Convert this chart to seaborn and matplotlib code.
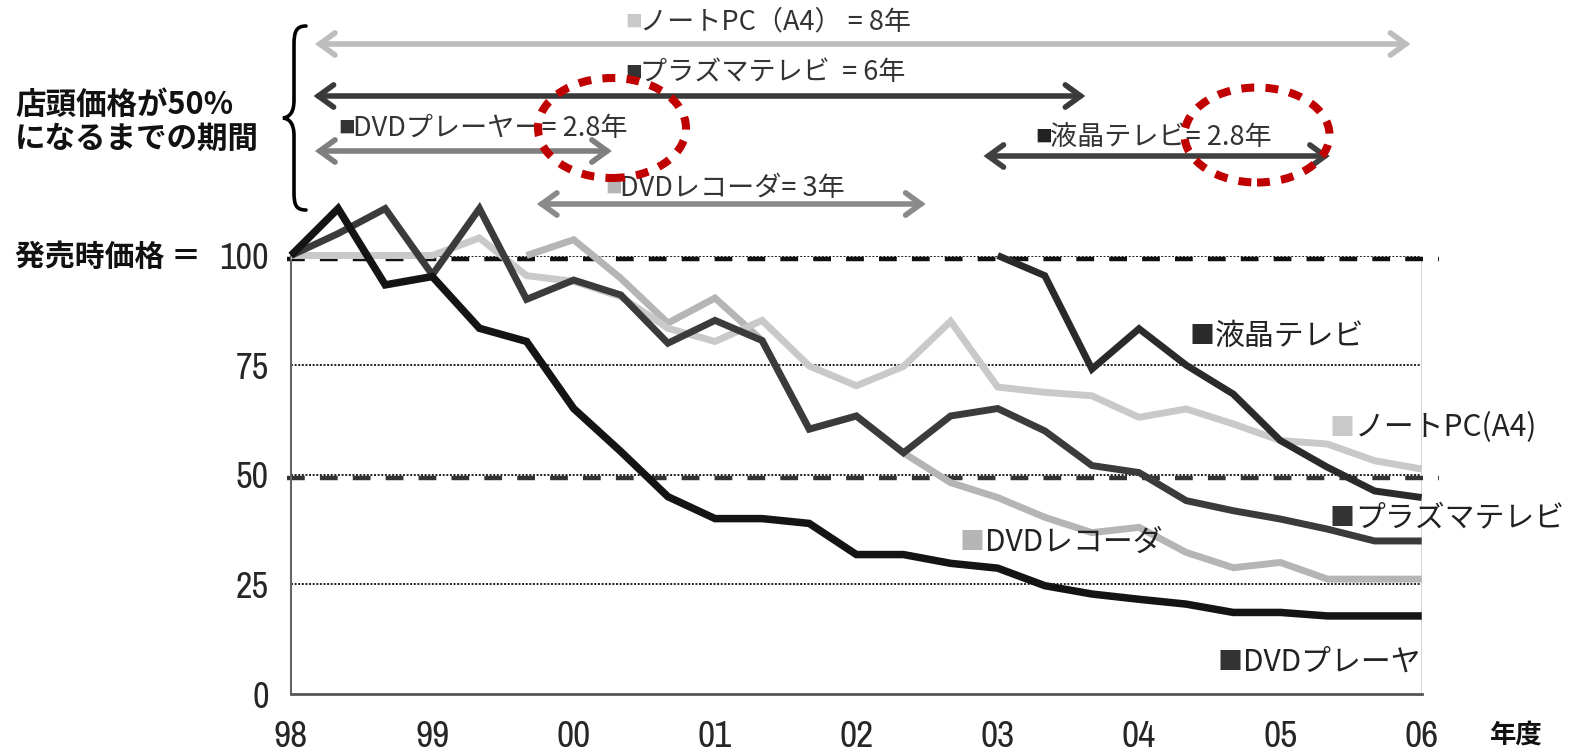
import numpy as np
import pandas as pd
import matplotlib
matplotlib.use("Agg")
import matplotlib.pyplot as plt
import matplotlib.transforms as mtransforms
from matplotlib import font_manager
from matplotlib.font_manager import FontProperties
from matplotlib.patches import FancyArrowPatch, Ellipse, PathPatch, ArrowStyle
from matplotlib.path import Path
import seaborn as sns

nan = np.nan

# one sample every four months, FY1998 .. FY2006 (x in years since FY98)
periods = np.arange(25) / 3.0
year_labels = ["98", "99", "00", "01", "02", "03", "04", "05", "06"]

# store price index (launch price = 100)
dvd_player = [100, 110.7, 93.3, 95.2, 83.4, 80.4, 65.1, 55.3, 45.0, 40.0, 40.0, 38.9, 31.8,
              31.8, 29.8, 28.7, 24.7, 22.8, 21.6, 20.5, 18.6, 18.6, 17.8, 17.8, 17.8]
plasma_tv = [100, 105.0, 110.7, 95.6, 110.7, 90.0, 94.4, 91.0, 80.0, 85.2, 80.6, 60.4, 63.4,
             55.0, 63.4, 65.1, 60.0, 52.1, 50.5, 44.1, 41.8, 39.9, 37.6, 34.9, 34.9]
notebook_pc = [100, 100, 100, 100, 104.0, 95.4, 94.1, 90.6, 83.4, 80.4, 85.2, 74.8, 70.3,
               74.7, 85.0, 70.0, 68.8, 68.0, 63.1, 65.0, 61.6, 57.8, 57.0, 53.2, 51.3]
dvd_recorder = [nan, nan, nan, nan, nan, 100, 103.6, 94.8, 84.6, 90.3, 80.6, 60.4, 63.4,
                55.0, 48.2, 44.8, 40.3, 36.8, 38.0, 32.3, 28.8, 30.0, 26.2, 26.2, 26.2]
lcd_tv = [nan] * 15 + [100, 95.4, 74.1, 83.3, 75.0, 68.4, 57.8, 51.7, 46.3, 44.8]

series_names = ["DVDレコーダ", "ノートPC(A4)", "プラズマテレビ", "液晶テレビ", "DVDプレーヤ"]
series_values = [dvd_recorder, notebook_pc, plasma_tv, lcd_tv, dvd_player]

# time needed until the store price halves
halving_labels = ["ノートPC（A4） = 8年", "プラズマテレビ  = 6年", "DVDプレーヤー= 2.8年",
                  "液晶テレビ= 2.8年", "DVDレコーダ= 3年"]
halving_spans = [(0.17, 7.92), (0.16, 5.62), (0.17, 2.27), (4.90, 7.35), (1.74, 4.49)]

colors = {"DVDレコーダ": "#b5b5b5", "ノートPC(A4)": "#c9c9c9", "プラズマテレビ": "#3b3b3b",
          "液晶テレビ": "#2a2a2a", "DVDプレーヤ": "#141414"}
widths = {"DVDレコーダ": 5.0, "ノートPC(A4)": 5.0, "プラズマテレビ": 5.0,
          "液晶テレビ": 5.0, "DVDプレーヤ": 5.4}

df = pd.DataFrame({
    "period": np.tile(periods, len(series_names)),
    "price": np.concatenate([np.asarray(v, float) for v in series_values]),
    "item": np.repeat(series_names, len(periods)),
})

sns.set_style("white")
plt.rcParams["font.family"] = ["Noto Sans CJK JP", "DejaVu Sans"]

# prefer a narrow sans for the axis numbers
tick_font = {"family": "Liberation Sans"}
entries = font_manager.fontManager.ttflist
narrow_names = [f.name for f in entries if "Narrow" in f.name or "Condensed" in f.name]
if narrow_names:
    tick_font = {"family": sorted(narrow_names)[0]}
else:
    for f in entries:
        if f.name == "DejaVu Sans" and str(f.stretch) in ("condensed", "semi-condensed", "575", "600"):
            tick_font = {"family": "DejaVu Sans", "stretch": "condensed"}
            break

W, H = 1573, 751
fig = plt.figure(figsize=(W / 100, H / 100), dpi=100)


def px(x, y):
    return (x / W, 1 - y / H)


ax = fig.add_axes([291 / W, 1 - 694 / H, (1421.7 - 291) / W, (694 - 255.5) / H])
ax.set_xlim(0, 8)
ax.set_ylim(0, 100)

# dotted grid and the bold 100 / 50 guides
for v in [25, 50, 75, 100]:
    ax.axhline(v, color="#111111", lw=1.3, ls=(0, (1.1, 0.9)), zorder=1)
shifted = mtransforms.offset_copy(ax.transData, fig, y=-3.5, units="dots")
for v, c in [(100, "#111111"), (50, "#333333")]:
    ax.plot([-0.03, 8.12], [v, v], transform=shifted, color=c, lw=3.2,
            ls=(0, (4.0, 3.4)), clip_on=False, zorder=1.5)
ax.axvline(8, color="#d6d6d6", lw=1.5, zorder=1)

for name in series_names:
    sub = df[df["item"] == name].dropna()
    sns.lineplot(data=sub, x="period", y="price", ax=ax, color=colors[name],
                 lw=widths[name], estimator=None, errorbar=None, legend=False,
                 clip_on=False, zorder=3, solid_joinstyle="miter", solid_capstyle="butt")

ax.set_xlabel("")
ax.set_ylabel("")
ax.set_xticks(range(len(year_labels)))
ax.set_xticklabels(year_labels)
ax.set_xticks(periods, minor=True)
ax.set_yticks([0, 25, 50, 75, 100])
ax.set_yticklabels(["0", "25", "50", "75", "100"])
for lab in ax.get_xticklabels():
    lab.set_fontproperties(FontProperties(size=27, **tick_font))
for lab in ax.get_yticklabels():
    lab.set_fontproperties(FontProperties(size=26, **tick_font))
ax.tick_params(axis="x", which="both", direction="in", length=8, width=1.2, color="#444444")
ax.tick_params(axis="x", which="major", pad=19)
ax.tick_params(axis="y", length=0, pad=16)
for s in ["top", "right"]:
    ax.spines[s].set_visible(False)
ax.spines["left"].set_color("#666666")
ax.spines["left"].set_linewidth(1.5)
ax.spines["bottom"].set_color("#555555")
ax.spines["bottom"].set_linewidth(2)
ax.set_facecolor("white")

# series labels on the right
label_pos = {"液晶テレビ": (1190, 336), "ノートPC(A4)": (1330, 428), "プラズマテレビ": (1330, 518),
             "DVDレコーダ": (960, 542), "DVDプレーヤ": (1218, 662)}
square_col = {"液晶テレビ": "#2a2a2a", "ノートPC(A4)": "#c9c9c9", "プラズマテレビ": "#333333",
              "DVDレコーダ": "#b5b5b5", "DVDプレーヤ": "#333333"}
for name, (x, y) in label_pos.items():
    fig.text(*px(x, y), "■", color=square_col[name], fontsize=18, va="center", ha="left")
    fig.text(*px(x + 25, y), name, color="#222222", fontsize=21.5, va="center", ha="left")

# halving-period arrows and captions
blend = mtransforms.blended_transform_factory(ax.transData, fig.transFigure)
arrow_y = [44, 96, 151, 156, 204]
arrow_col = ["#bdbdbd", "#3a3a3a", "#7f7f7f", "#404040", "#8a8a8a"]
caption_pos = [(625, 22), (625, 73), (338, 128), (1035, 137), (605, 188)]
caption_sq = ["#c9c9c9", "#333333", "#333333", "#222222", "#b5b5b5"]
for (x0, x1), yy, col in zip(halving_spans, arrow_y, arrow_col):
    fy = 1 - yy / H
    arr = FancyArrowPatch((x0, fy), (x1, fy), transform=blend,
                          arrowstyle=ArrowStyle("<->", head_length=11, head_width=8),
                          mutation_scale=1, lw=4.0, color=col, shrinkA=0, shrinkB=0,
                          clip_on=False, joinstyle="miter", capstyle="round")
    fig.add_artist(arr)
for txt, (x, y), sq in zip(halving_labels, caption_pos, caption_sq):
    fig.text(*px(x, y), "■", color=sq, fontsize=12, va="center", ha="left")
    fig.text(*px(x + 15, y), txt, color="#333333", fontsize=19.5, va="center", ha="left")

# highlight rings around the 2.8-year results
for (cx, cy, w, h) in [(612, 128, 148, 100), (1257, 135, 145, 95)]:
    e = Ellipse(px(cx, cy), w / W, h / H, transform=fig.transFigure, fill=False,
                edgecolor="#c00000", lw=5.8, ls=(0, (1.6, 1.4)), zorder=5)
    fig.add_artist(e)

# curly brace grouping the arrows
brace_pts = [(306, 26), (296, 26), (294, 32), (294, 45), (294, 100),
             (294, 112), (290, 117), (283, 118), (290, 119), (294, 124), (294, 136),
             (294, 192), (294, 205), (296, 210), (306, 210)]
codes = [Path.MOVETO, Path.CURVE4, Path.CURVE4, Path.CURVE4, Path.LINETO,
         Path.CURVE4, Path.CURVE4, Path.CURVE4, Path.CURVE4, Path.CURVE4, Path.CURVE4,
         Path.LINETO, Path.CURVE4, Path.CURVE4, Path.CURVE4]
brace = PathPatch(Path([px(x, y) for x, y in brace_pts], codes), transform=fig.transFigure,
                  fill=False, lw=2.6, edgecolor="black", capstyle="round")
fig.add_artist(brace)

fig.text(*px(15, 122), "店頭価格が50%\nになるまでの期間", fontsize=22, fontweight="bold",
         va="center", ha="left", linespacing=1.1, color="#111111")
fig.text(*px(15, 257), "発売時価格 ＝", fontsize=21.5, fontweight="bold",
         va="center", ha="left", color="#111111")
fig.text(*px(1490, 735), "年度", fontsize=19, fontweight="bold",
         va="center", ha="left", color="#111111")

fig.savefig("out.png", dpi=100, facecolor="white")
